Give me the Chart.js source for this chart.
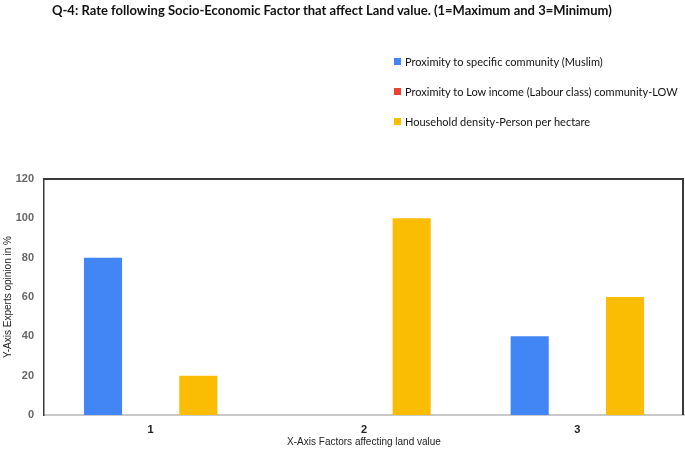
<!DOCTYPE html>
<html>
<head>
<meta charset="utf-8">
<script src="https://cdn.jsdelivr.net/npm/chart.js@4.4.1/dist/chart.umd.min.js"></script>
<style>
  body { margin: 0; background: #fff; }
  #wrap { position: relative; width: 685px; height: 449px; }
  #title { position: absolute; left: 52px; top: 2px; font: bold 13px Lato, sans-serif; color: #111; white-space: nowrap; }
  #legend { position: absolute; left: 394px; top: 55px; font: 11px Lato, sans-serif; color: #111; }
  #legend div { height: 14px; line-height: 14px; margin-bottom: 16px; white-space: nowrap; }
  #legend span { display: inline-block; width: 7px; height: 7px; margin-right: 4px; vertical-align: 1px; }
</style>
</head>
<body>
<div id="wrap">
  <canvas id="chart" width="685" height="449"></canvas>
  <div id="title">Q-4: Rate following Socio-Economic Factor that affect Land value. (1=Maximum and 3=Minimum)</div>
  <div id="legend"></div>
</div>
<script>
// data
const categories = ['1', '2', '3'];
const muslimProximity = [80, 0, 40];
const lowIncomeProximity = [0, 0, 0];
const householdDensity = [20, 100, 60];
const seriesNames = [
    'Proximity to specific community (Muslim)',
    'Proximity to Low income (Labour class) community-LOW',
    'Household density-Person per hectare'
];
const seriesColors = ['#4285F4', '#EA4335', '#FBBC04'];
const yMax = 120;
const yStep = 20;

// legend as html
const legendBox = document.getElementById('legend');
seriesNames.forEach(function(name, i) {
    const row = document.createElement('div');
    const sw = document.createElement('span');
    sw.style.background = seriesColors[i];
    row.appendChild(sw);
    row.appendChild(document.createTextNode(name));
    legendBox.appendChild(row);
});

// top and right frame lines
const frame = {
    id: 'frame',
    afterDraw(chart) {
        const ctx = chart.ctx;
        const a = chart.chartArea;
        ctx.save();
        ctx.strokeStyle = '#3a3a3a';
        ctx.lineWidth = 2;
        ctx.beginPath();
        ctx.moveTo(a.left, a.top);
        ctx.lineTo(a.right - 1, a.top);
        ctx.lineTo(a.right - 1, a.bottom);
        ctx.stroke();
        ctx.restore();
    }
};

const ctx = document.getElementById('chart').getContext('2d');
const chart = new Chart(ctx, {
    type: 'bar',
    data: {
        labels: categories,
        datasets: [
            { label: seriesNames[0], data: muslimProximity, backgroundColor: seriesColors[0] },
            { label: seriesNames[1], data: lowIncomeProximity, backgroundColor: seriesColors[1] },
            { label: seriesNames[2], data: householdDensity, backgroundColor: seriesColors[2] }
        ]
    },
    options: {
        responsive: false,
        animation: false,
        layout: { padding: { top: 179, right: 1, left: 0, bottom: 0 } },
        datasets: { bar: { barPercentage: 0.8, categoryPercentage: 0.67 } },
        plugins: {
            legend: { display: false },
            title: { display: false },
            tooltip: { enabled: false }
        },
        scales: {
            x: {
                grid: { display: false, drawTicks: false },
                border: { display: true, color: '#c8c8c8', width: 2 },
                ticks: { color: '#222', padding: 8, font: { family: 'Liberation Sans, Arial', size: 11, weight: 'bold' } },
                title: { display: true, text: 'X-Axis Factors affecting land value', color: '#222', padding: { top: 0, bottom: 1 }, font: { family: 'Liberation Sans, Arial', size: 10 } },
                afterFit(scale) { scale.height = 34; }
            },
            y: {
                min: 0,
                max: yMax,
                grid: { display: false, drawTicks: false },
                border: { display: true, color: '#3a3a3a', width: 1.5 },
                ticks: { stepSize: yStep, color: '#666', padding: 10, font: { family: 'Liberation Sans, Arial', size: 11, weight: 'bold' } },
                title: { display: true, text: 'Y-Axis Experts opinion in %', color: '#222', padding: { top: 2, bottom: 0 }, font: { family: 'Liberation Sans, Arial', size: 10 } },
                afterFit(scale) { scale.width = 44; }
            }
        }
    },
    plugins: [frame]
});
</script>
</body>
</html>
